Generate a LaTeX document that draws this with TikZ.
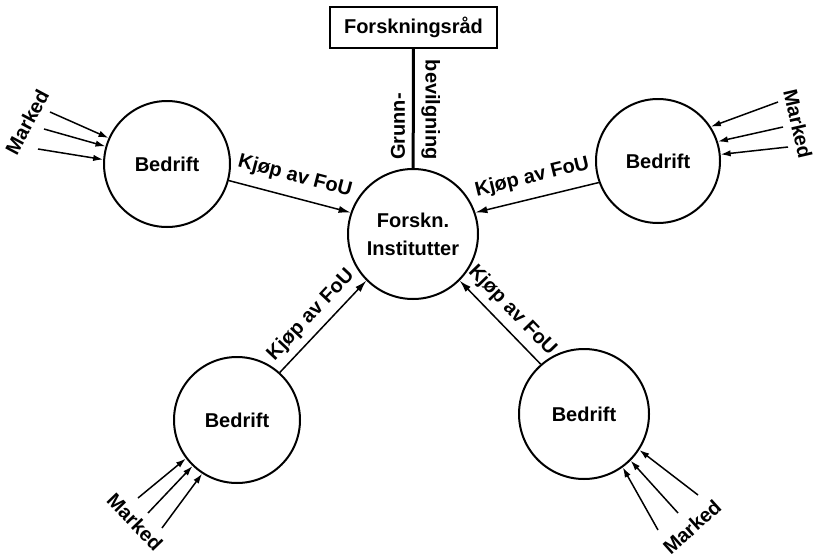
\documentclass[tikz,border=0pt]{standalone}
\usepackage{fontspec}
\setmainfont{Liberation Sans}
\usetikzlibrary{arrows.meta,positioning}
\tikzset{
  firm/.style={circle,draw,line width=1pt,minimum size=63pt,inner sep=0pt},
  flow/.style={-{Latex[length=6pt,width=3.6pt]},line width=0.75pt},
  mkt/.style={-{Latex[length=5pt,width=3.2pt]},line width=0.75pt},
  grant/.style={line width=1.5pt},
  every node/.style={font=\fontsize{10}{14}\selectfont\bfseries}
}

\begin{document}
\begin{tikzpicture}[x=0.5pt,y=-0.5pt]
  \useasboundingbox (0,0) rectangle (814,557);
  % council and institutes
  \node[draw,line width=1pt,minimum width=83.5pt,minimum height=20.5pt] (raad) at (413.5,27.5) {Forskningsråd};
  \node[firm,minimum size=65pt,align=center] (inst) at (413,234) {Forskn.\\Institutter};
  \draw[grant] (raad) -- (inst)
    node[pos=1,rotate=90,anchor=south west] (grunn) {Grunn-}
    node[pos=1,rotate=-90,anchor=south east] (bev) {bevilgning};
  % firms
  \node[firm] (tl) at (167,164) {Bedrift};
  \node[firm,minimum size=62pt] (tr) at (658,161) {Bedrift};
  \node[firm] (bl) at (237,420) {Bedrift};
  \node[firm,minimum size=65pt] (br) at (584,414) {Bedrift};
  % purchase of R&D
  \draw[flow] (tl.-15) -- node[sloped,above=2pt] (kjtl) {Kjøp av FoU} (inst.161);
  \draw[flow] (tr.-160) -- node[sloped,above=2pt] (kjtr) {Kjøp av FoU} (inst.19);
  \draw[flow] (bl.48) -- node[sloped,above=0pt] (kjbl) {Kjøp av FoU} (inst.-135);
  \draw[flow] (br.131) -- node[sloped,above=0pt] (kjbr) {Kjøp av FoU} (inst.-45);
  % market
  \foreach \px/\py/\a [count=\i] in {50/112/156,44/129/164,38/149/176} {
    \coordinate (tlm\i) at (\px,\py);
    \draw[mkt] (tlm\i) -- (tl.\a);
  }
  \foreach \px/\py/\a [count=\i] in {778/102/33,783/127/18,788/147/6} {
    \coordinate (trm\i) at (\px,\py);
    \draw[mkt] (trm\i) -- (tr.\a);
  }
  \foreach \px/\py/\a [count=\i] in {138/498/-143,148/513/-134,162/528/-123} {
    \coordinate (blm\i) at (\px,\py);
    \draw[mkt] (blm\i) -- (bl.\a);
  }
  \foreach \px/\py/\a [count=\i] in {658/530/-54,678/513/-45,698/495/-33} {
    \coordinate (brm\i) at (\px,\py);
    \draw[mkt] (brm\i) -- (br.\a);
  }
  \node[rotate=62] (mtl) at (27,122) {Marked};
  \node[rotate=-77] (mtr) at (798,124) {Marked};
  \node[rotate=-46] (mbl) at (135,522) {Marked};
  \node[rotate=42] (mbr) at (692,527) {Marked};
\end{tikzpicture}
\end{document}
